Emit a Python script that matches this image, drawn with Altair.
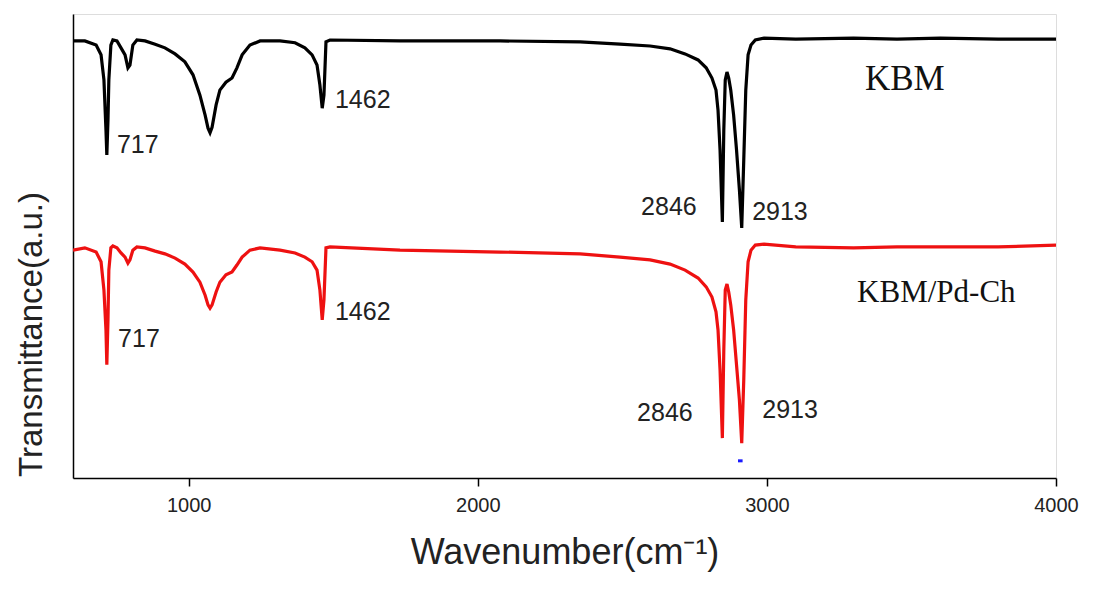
import altair as alt
import pandas as pd

# KBM spectrum (black)
kbm_wn = [600, 641, 680, 697, 707, 714, 717, 721, 724, 731, 738, 752, 766, 780, 790, 797, 807, 821, 849,
          884, 918, 953, 987, 1015, 1039, 1057, 1067, 1074, 1081, 1095, 1108, 1129, 1150, 1167, 1185, 1212,
          1247, 1316, 1368, 1402, 1427, 1444, 1454, 1462, 1468, 1475, 1489, 1731, 2077, 2354, 2492, 2596,
          2665, 2717, 2762, 2790, 2810, 2824, 2831, 2838, 2846, 2851, 2856, 2862, 2868, 2875, 2885, 2895,
          2905, 2913, 2920, 2927, 2935, 2945, 2960, 2990, 3100, 3300, 3450, 3600, 3800, 4000]
kbm_t = [94.2, 94.2, 93.3, 91.2, 85.8, 75.0, 69.6, 77.2, 85.8, 93.3, 94.4, 94.2, 92.7, 91.2, 88.4, 89.0,
         93.3, 94.4, 94.2, 93.5, 92.7, 91.4, 89.7, 86.9, 82.5, 78.2, 75.4, 74.4, 75.6, 80.4, 83.6, 85.3,
         86.2, 88.4, 91.2, 93.3, 94.2, 94.2, 93.8, 92.7, 91.2, 89.0, 84.7, 79.7, 82.5, 94.0, 94.4, 94.2,
         94.2, 94.0, 93.5, 93.1, 92.5, 91.4, 90.1, 88.4, 86.2, 83.6, 79.3, 70.7, 55.2, 75.0, 85.8, 87.5,
         86.2, 83.6, 78.2, 70.7, 62.1, 53.9, 68.5, 83.6, 91.2, 93.3, 94.4, 94.8, 94.6, 94.8, 94.6, 94.8,
         94.6, 94.6]

# KBM/Pd-Ch spectrum (red)
pd_wn = kbm_wn
pd_t = [49.1, 49.6, 48.7, 46.6, 40.5, 31.9, 24.4, 34.1, 44.8, 49.6, 50.0, 49.6, 48.5, 47.6, 46.3, 47.0,
        49.1, 49.8, 49.6, 48.9, 48.3, 47.4, 46.1, 44.4, 42.2, 39.4, 37.3, 36.6, 37.3, 40.1, 42.2, 43.8,
        44.4, 45.9, 47.6, 49.1, 49.6, 49.1, 48.5, 47.6, 46.6, 44.8, 40.5, 34.1, 38.4, 49.6, 49.8, 49.1,
        48.7, 48.3, 47.6, 47.0, 46.1, 44.8, 43.1, 41.2, 39.0, 35.8, 31.9, 23.3, 8.6, 27.6, 40.5, 41.8,
        40.1, 37.3, 31.9, 24.4, 16.8, 7.5, 21.1, 38.4, 46.6, 49.1, 50.2, 50.4, 49.8, 49.6, 49.8, 49.8,
        49.8, 50.2]

series_names = ["KBM", "KBM/Pd-Ch"]
series_colors = ["#000000", "#ee1111"]

# Peak labels
peak_text = ["717", "1462", "2846", "2913", "717", "1462", "2846", "2913"]
peak_wn = [752, 1506, 2565, 2949, 756, 1506, 2551, 2984]
peak_t = [70.0, 79.7, 56.7, 55.6, 28.2, 34.1, 12.3, 12.9]

# Sample labels
sample_text = ["KBM", "KBM/Pd-Ch"]
sample_wn = [3339, 3312]
sample_t = [83.6, 37.9]
sample_size = [35, 31]

# small blue marker
marker_wn = [2900, 2916]
marker_t = [3.7]

rows = []
for name, wn, t in [("KBM", kbm_wn, kbm_t), ("KBM/Pd-Ch", pd_wn, pd_t)]:
    for w, v in zip(wn, t):
        rows.append({"wn": w, "T": v, "series": name})
df = pd.DataFrame(rows)

xscale = alt.Scale(domain=[600, 4000], nice=False, zero=False)
yscale = alt.Scale(domain=[0, 100], nice=False, zero=False)

lines = alt.Chart(df).mark_line(strokeWidth=3.2, clip=True).encode(
    x=alt.X("wn:Q", scale=xscale,
            axis=alt.Axis(title="Wavenumber(cm⁻¹)", values=[1000, 2000, 3000, 4000], format="d",
                          grid=False,
                          labelFontSize=20, labelColor="#222", labelFont="Liberation Sans",
                          labelFlush=False, labelPadding=9,
                          tickSize=8, tickColor="black", tickWidth=1.5,
                          domainColor="black", domainWidth=1.5,
                          titleFontSize=36, titleFont="Liberation Sans", titleFontWeight="normal",
                          titleColor="#222", titleBaseline="alphabetic", titleY=85)),
    y=alt.Y("T:Q", scale=yscale,
            axis=alt.Axis(title="Transmittance(a.u.)", labels=False, ticks=False, grid=False,
                          domainColor="black", domainWidth=1.5,
                          titleFontSize=33, titleFont="Liberation Sans", titleFontWeight="normal",
                          titleColor="#222", titleAngle=270, titleBaseline="middle",
                          titleAlign="center", titleX=-42, titleY=320)),
    color=alt.Color("series:N", scale=alt.Scale(domain=series_names, range=series_colors), legend=None),
    detail="series:N",
)

peaks_df = pd.DataFrame({"text": peak_text, "wn": peak_wn, "T": peak_t})
peaks = alt.Chart(peaks_df).mark_text(align="left", baseline="alphabetic", fontSize=25,
                                      font="Liberation Sans", color="#222").encode(
    x=alt.X("wn:Q", scale=xscale), y=alt.Y("T:Q", scale=yscale), text="text:N")

samples_df = pd.DataFrame({"text": sample_text, "wn": sample_wn, "T": sample_t, "size": sample_size})
samples = alt.Chart(samples_df).mark_text(align="left", baseline="alphabetic",
                                          font="Liberation Serif", color="#111").encode(
    x=alt.X("wn:Q", scale=xscale), y=alt.Y("T:Q", scale=yscale), text="text:N",
    size=alt.Size("size:Q", scale=None, legend=None))

marker_df = pd.DataFrame({"wn": [marker_wn[0]], "wn2": [marker_wn[1]], "T": marker_t})
marker = alt.Chart(marker_df).mark_rule(color="#1a1aff", strokeWidth=3).encode(
    x=alt.X("wn:Q", scale=xscale), x2="wn2:Q", y=alt.Y("T:Q", scale=yscale))

chart = alt.layer(lines, peaks, samples, marker).properties(
    width=983, height=464,
    autosize=alt.AutoSizeParams(type="none"),
    padding={"left": 65, "top": 6, "right": 30, "bottom": 95},
).configure_view(stroke="black", strokeWidth=1.5).configure(background="white")

chart.save("out.html", embed_options={"renderer": "svg", "actions": False})
